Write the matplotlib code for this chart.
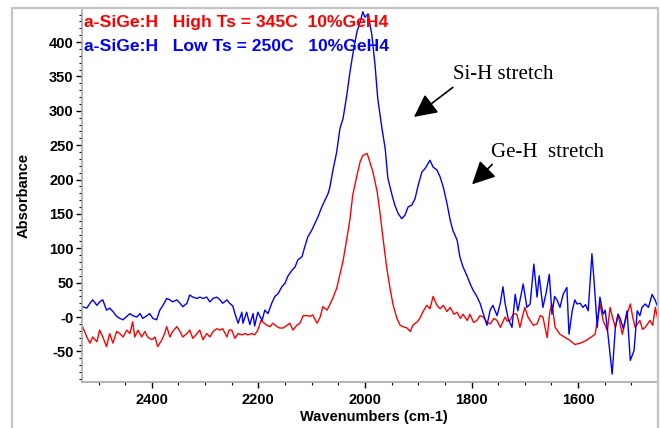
import numpy as np
import matplotlib
matplotlib.use("Agg")
import matplotlib.pyplot as plt
from matplotlib.ticker import MultipleLocator, FixedLocator, FixedFormatter
from matplotlib.lines import Line2D
from matplotlib.font_manager import FontProperties

# values (wavenumber cm-1, absorbance)
high_ts_wn = [2530, 2522, 2516, 2511, 2503, 2498, 2492, 2485, 2479, 2473, 2466, 2460,
              2454, 2447, 2441, 2436, 2432, 2426, 2419, 2413, 2408, 2400, 2394, 2389,
              2381, 2376, 2372, 2366, 2361, 2353, 2347, 2342, 2334, 2329, 2323, 2315,
              2310, 2304, 2297, 2291, 2285, 2278, 2272, 2267, 2259, 2255, 2250, 2244,
              2238, 2231, 2225, 2220, 2212, 2207, 2201, 2195, 2192, 2184, 2178, 2173,
              2165, 2160, 2154, 2146, 2141, 2135, 2128, 2122, 2116, 2109, 2103, 2098,
              2090, 2084, 2079, 2071, 2066, 2060, 2053, 2047, 2041, 2034, 2028, 2023,
              2015, 2009, 2004, 1996, 1991, 1985, 1977, 1972, 1966, 1959, 1953, 1947,
              1940, 1934, 1929, 1921, 1915, 1910, 1902, 1897, 1891, 1884, 1878, 1872,
              1865, 1859, 1853, 1846, 1840, 1833, 1827, 1821, 1816, 1808, 1803, 1796,
              1790, 1784, 1778, 1771, 1765, 1758, 1752, 1746, 1737, 1733, 1728, 1721,
              1715, 1709, 1704, 1700, 1694, 1690, 1684, 1677, 1671, 1666, 1658, 1653,
              1649, 1643, 1634, 1624, 1615, 1606, 1596, 1587, 1577, 1568, 1562, 1559,
              1553, 1545, 1540, 1535, 1530, 1525, 1517, 1512, 1508, 1502, 1497, 1493,
              1484, 1479, 1474, 1465, 1460, 1455, 1450]
high_ts_abs = [-14, -29, -38, -29, -36, -19, -29, -43, -24, -38, -21, -24,
               -29, -19, -24, -7, -29, -19, -29, -21, -29, -33, -29, -43,
               -33, -24, -14, -29, -21, -14, -21, -29, -24, -19, -31, -24,
               -19, -33, -24, -29, -21, -17, -19, -17, -29, -19, -19, -31,
               -24, -26, -24, -26, -24, -26, -19, -5, -7, -12, -14, -9,
               -14, -16, -16, -12, -9, -19, -12, -9, 2, 2, 1, 3,
               -9, 0, 15, 10, 18, 28, 42, 62, 82, 114, 143, 177,
               206, 226, 235, 238, 226, 211, 182, 153, 114, 71, 42, 17,
               -2, -12, -14, -16, -21, -12, -7, -2, 8, 17, 12, 30,
               17, 12, 17, 8, 14, 4, 7, -2, 4, -5, 4, -8,
               -5, 2, 0, -8, -10, -2, -5, -15, 0, -6, -5, 5,
               4, -15, 2, 14, 0, -5, -12, -10, 2, 0, -30, 8,
               19, -15, -25, -30, -34, -40, -38, -35, -30, -25, 5, 19,
               -5, -20, 14, -2, -15, 4, -25, -8, 4, 19, -2, -15,
               -5, -18, -15, -5, -12, 14, -5]

low_ts_wn = [2530, 2522, 2516, 2511, 2503, 2498, 2492, 2485, 2479, 2473, 2466, 2460,
             2454, 2447, 2441, 2436, 2428, 2422, 2417, 2409, 2404, 2398, 2391, 2385,
             2379, 2372, 2366, 2361, 2353, 2347, 2342, 2334, 2329, 2323, 2315, 2310,
             2304, 2297, 2291, 2285, 2278, 2272, 2267, 2259, 2254, 2248, 2244, 2238,
             2231, 2229, 2222, 2216, 2210, 2207, 2201, 2193, 2188, 2182, 2175, 2169,
             2163, 2156, 2150, 2145, 2137, 2131, 2126, 2118, 2113, 2107, 2100, 2094,
             2088, 2081, 2075, 2069, 2066, 2060, 2053, 2047, 2041, 2034, 2028, 2023,
             2015, 2009, 2004, 2000, 1994, 1987, 1981, 1976, 1968, 1962, 1957, 1949,
             1944, 1938, 1931, 1925, 1919, 1912, 1906, 1900, 1893, 1887, 1878, 1872,
             1865, 1859, 1853, 1846, 1840, 1835, 1827, 1822, 1816, 1808, 1803, 1797,
             1790, 1784, 1778, 1771, 1765, 1760, 1752, 1746, 1741, 1737, 1731, 1724,
             1718, 1713, 1703, 1696, 1690, 1683, 1677, 1673, 1666, 1660, 1654, 1649,
             1644, 1639, 1634, 1628, 1621, 1617, 1611, 1606, 1602, 1596, 1591, 1586,
             1581, 1574, 1570, 1564, 1559, 1553, 1549, 1544, 1536, 1530, 1525, 1521,
             1515, 1508, 1502, 1495, 1489, 1484, 1480, 1474, 1468, 1461, 1455, 1450]
low_ts_abs = [15, 13, 20, 25, 17, 22, 25, 10, 13, 8, 1, -2,
              -4, 1, 5, 2, 0, 5, -2, 2, 5, -2, -4, 10,
              17, 27, 25, 22, 25, 20, 15, 20, 32, 29, 27, 29,
              27, 29, 22, 27, 29, 25, 20, 25, 20, 16, 5, -9,
              7, -9, 7, -11, 5, -13, 7, -5, 10, 5, 20, 30,
              34, 44, 49, 59, 68, 73, 83, 88, 102, 117, 126, 136,
              146, 160, 170, 180, 188, 214, 240, 274, 289, 323, 357, 381,
              415, 429, 444, 436, 441, 410, 366, 318, 274, 245, 202, 177,
              163, 151, 143, 148, 160, 163, 172, 192, 211, 216, 228, 218,
              214, 204, 189, 165, 141, 126, 112, 88, 73, 59, 49, 39,
              30, 20, 5, -12, 10, 17, 2, 20, 44, 20, -3, -15,
              33, 9, 48, 14, 19, 77, 29, 60, 14, 35, 62, 4,
              30, 24, 14, 33, 43, -25, 9, 25, 19, 20, 14, 18,
              9, 92, 53, -15, 29, 4, 10, -25, -83, -15, 4, -2,
              -17, 9, -63, -49, 9, 2, 14, 19, 14, 33, 24, 14]

y_ticks = [-50, 0, 50, 100, 150, 200, 250, 300, 350, 400]
y_tick_labels = ["-50", "-0", "50", "100", "150", "200", "250", "300", "350", "400"]
x_ticks = [2400, 2200, 2000, 1800, 1600]

fig = plt.figure(figsize=(6.6, 4.28), dpi=100)
ax = fig.add_axes([82 / 660, 46 / 428, 576 / 660, 373 / 428])

ax.plot(high_ts_wn, high_ts_abs, color="#ff0000", lw=1.0)
ax.plot(low_ts_wn, low_ts_abs, color="#0000ff", lw=1.0)

ax.set_xlim(2531, 1450)
ax.set_ylim(-94.5, 448)

ax.xaxis.set_major_locator(FixedLocator(x_ticks))
ax.xaxis.set_minor_locator(MultipleLocator(50))
ax.yaxis.set_major_locator(FixedLocator(y_ticks))
ax.yaxis.set_major_formatter(FixedFormatter(y_tick_labels))
ax.yaxis.set_minor_locator(MultipleLocator(10))

tick_font = FontProperties(family="Liberation Sans", weight="bold", size=10.5)
for lab in ax.get_xticklabels() + ax.get_yticklabels():
    lab.set_fontproperties(tick_font)
ax.tick_params(which="major", direction="out", length=4, width=1, color="black", pad=2)
ax.tick_params(which="minor", direction="out", length=2, width=0.8, color="black")
ax.tick_params(axis="x", which="major", pad=4)

for side in ["top", "right"]:
    ax.spines[side].set_visible(False)
for side in ["left", "bottom"]:
    ax.spines[side].set_color("#a8a8a8")
    ax.spines[side].set_linewidth(1.2)

ax.set_xlabel("Wavenumbers (cm-1)", family="Liberation Sans", weight="bold", size=10.5)
ax.set_ylabel("Absorbance", family="Liberation Sans", weight="bold", size=10.5)
ax.xaxis.set_label_coords(0.507, -0.076)
ax.yaxis.set_label_coords(-0.089, 0.5)

ax.text(2528, 429, "a-SiGe:H   High Ts = 345C  10%GeH4", color="#ff0000",
        family="Liberation Sans", weight="bold", size=12.6, va="center", ha="left")
ax.text(2528, 394, "a-SiGe:H   Low Ts = 250C   10%GeH4", color="#0000ff",
        family="Liberation Sans", weight="bold", size=12.6, va="center", ha="left")

ax.text(1835, 346, "Si-H stretch", family="Liberation Serif", size=15, va="baseline", ha="left")
ax.text(1763, 233, "Ge-H  stretch", family="Liberation Serif", size=15, va="baseline", ha="left")

arrow = dict(arrowstyle="-|>,head_length=1.4,head_width=0.7", mutation_scale=10,
             color="black", lw=1.2, shrinkA=0, shrinkB=0)
ax.annotate("", xy=(1908, 291), xytext=(1835, 334), arrowprops=arrow)
ax.annotate("", xy=(1799, 193), xytext=(1761, 222), arrowprops=arrow)

# grey outer frame, open at the bottom
frame = Line2D([12 / 660, 12 / 660, 658 / 660, 658 / 660], [0, 420 / 428, 420 / 428, 0],
               transform=fig.transFigure, color="#c4c4c4", lw=1.6)
fig.add_artist(frame)

fig.savefig("out.png", dpi=100)
